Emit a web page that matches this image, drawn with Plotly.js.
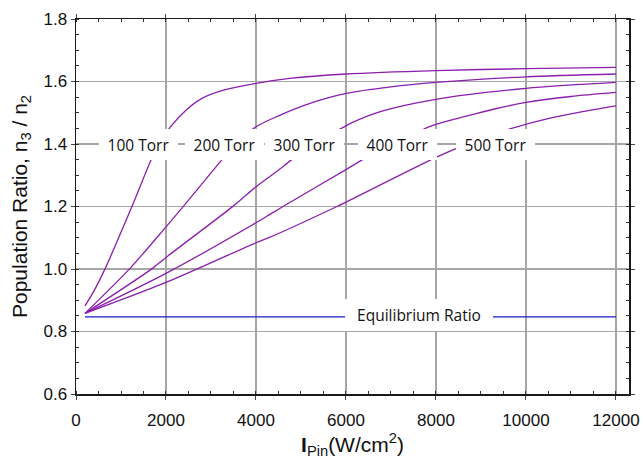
<!DOCTYPE html>
<html>
<head>
<meta charset="utf-8">
<script src="https://cdn.plot.ly/plotly-3.0.1.min.js"></script>
<style>
  html, body { margin: 0; padding: 0; background: #ffffff; }
  #chart { width: 643px; height: 459px; }
</style>
</head>
<body>
<div id="chart"></div>
<script>
// Pump intensity (W/cm^2) and population ratio n3/n2 for each buffer-gas pressure
const intensity100 = [200, 400, 650, 1250, 1700, 1900, 2100, 2450, 2800, 3300, 4000, 4750, 6000, 8000, 10000, 12000];
const ratio100     = [0.882, 0.930, 1.002, 1.202, 1.359, 1.412, 1.455, 1.509, 1.546, 1.573, 1.594, 1.610, 1.624, 1.635, 1.641, 1.645];

const intensity200 = [200, 1200, 2000, 2400, 3300, 3650, 4000, 4450, 5200, 6000, 7000, 8000, 10000, 12000];
const ratio200     = [0.858, 1.002, 1.135, 1.203, 1.359, 1.413, 1.455, 1.487, 1.530, 1.562, 1.583, 1.597, 1.615, 1.624];

const intensity300 = [200, 1700, 2000, 3500, 4000, 4450, 4870, 5400, 5960, 6100, 6800, 8000, 10000, 12000];
const ratio300     = [0.858, 1.002, 1.037, 1.202, 1.263, 1.311, 1.358, 1.410, 1.455, 1.466, 1.505, 1.543, 1.578, 1.597];

const intensity400 = [200, 2000, 4000, 4300, 4600, 6000, 6460, 7200, 7900, 8700, 9300, 10000, 11000, 12000];
const ratio400     = [0.858, 0.986, 1.148, 1.174, 1.200, 1.318, 1.357, 1.410, 1.458, 1.490, 1.512, 1.533, 1.552, 1.565];

const intensity500 = [200, 2000, 4000, 4300, 5800, 6000, 8000, 8470, 9100, 9800, 10400, 11200, 12000];
const ratio500     = [0.858, 0.957, 1.084, 1.101, 1.200, 1.214, 1.357, 1.387, 1.422, 1.455, 1.478, 1.502, 1.522];

const equilibriumIntensity = [200, 12000];
const equilibriumRatio     = [0.847, 0.847];

const pressureLabels = ['100 Torr', '200 Torr', '300 Torr', '400 Torr', '500 Torr'];

const xTicks = [0, 2000, 4000, 6000, 8000, 10000, 12000];
const yTicks = [0.6, 0.8, 1.0, 1.2, 1.4, 1.6, 1.8];

// label placement along the 1.4 gridline
const labelX = [1378, 3311, 5078, 7134, 9334];
const labelY = 1.4;

const curveColor = '#8b1fae';

const series = [
  [intensity100, ratio100],
  [intensity200, ratio200],
  [intensity300, ratio300],
  [intensity400, ratio400],
  [intensity500, ratio500]
];

const traces = series.map(function (s, i) {
  return {
    x: s[0], y: s[1], type: 'scatter', mode: 'lines',
    name: pressureLabels[i],
    line: { color: curveColor, width: 1.3, shape: 'spline', smoothing: 0.8 },
    hoverinfo: 'skip'
  };
});

traces.push({
  x: equilibriumIntensity, y: equilibriumRatio, type: 'scatter', mode: 'lines',
  name: 'Equilibrium Ratio',
  line: { color: '#1a1acc', width: 1.2 },
  hoverinfo: 'skip'
});

const labelFont = { family: 'Open Sans, Noto Sans, sans-serif', size: 15.5, color: '#111111' };

const annotations = pressureLabels.map(function (t, i) {
  return {
    x: labelX[i], y: labelY, xref: 'x', yref: 'y',
    text: t, showarrow: false,
    font: labelFont,
    bgcolor: '#ffffff', borderwidth: 0, borderpad: 0,
    width: 79, height: 31,
    xanchor: 'center', yanchor: 'middle', align: 'center'
  };
});

annotations.push({
  x: 7623, y: equilibriumRatio[0], xref: 'x', yref: 'y',
  text: 'Equilibrium Ratio', showarrow: false,
  font: labelFont,
  bgcolor: '#ffffff', borderwidth: 0, borderpad: 0,
  width: 148, height: 32, yshift: 2,
  xanchor: 'center', yanchor: 'middle', align: 'center'
});

const axisCommon = {
  showline: true, linecolor: '#1a1a1a', linewidth: 1.5, mirror: 'ticks',
  showgrid: true, gridcolor: '#a6a6a6', gridwidth: 1.5,
  zeroline: false,
  ticks: 'outside', ticklen: 4, tickcolor: '#444444', tickwidth: 1,
  tickfont: { family: 'Liberation Sans, Arial, sans-serif', size: 17, color: '#111111' }
};

const layout = {
  width: 643, height: 459,
  margin: { l: 76, r: 14, t: 19, b: 65 },
  paper_bgcolor: '#ffffff', plot_bgcolor: '#ffffff',
  showlegend: false,
  xaxis: Object.assign({}, axisCommon, {
    range: [0, 12290],
    tickvals: xTicks, ticktext: xTicks.map(String),
    ticklabelstandoff: 6,
    minor: { dtick: 500, tick0: 0, ticks: 'inside', ticklen: 3, tickcolor: '#333333', showgrid: false },
    title: {
      text: '<b>I</b><sub>Pin</sub>(W/cm<sup>2</sup>)',
      font: { family: 'Liberation Sans, Arial, sans-serif', size: 21, color: '#111111' },
      standoff: 8
    }
  }),
  yaxis: Object.assign({}, axisCommon, {
    range: [0.6, 1.8],
    tickvals: yTicks, ticktext: yTicks.map(function (v) { return v.toFixed(1); }),
    minor: { dtick: 0.05, tick0: 0.6, ticks: 'inside', ticklen: 3, tickcolor: '#333333', showgrid: false },
    title: {
      text: 'Population Ratio, n<sub>3</sub> / n<sub>2</sub>',
      font: { family: 'Liberation Sans, Arial, sans-serif', size: 21, color: '#111111' },
      standoff: 10
    }
  }),
  annotations: annotations
};

Plotly.newPlot('chart', traces, layout, { staticPlot: true, displayModeBar: false });
</script>
</body>
</html>
